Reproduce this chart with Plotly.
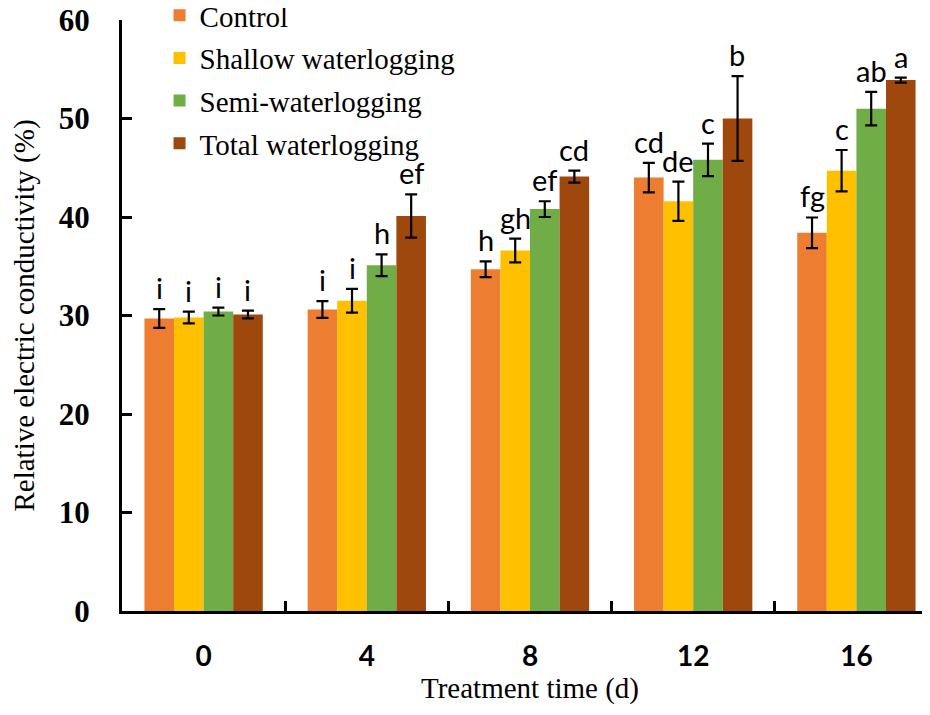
import plotly.graph_objects as go

days = ["0", "4", "8", "12", "16"]
series_names = ["Control", "Shallow waterlogging", "Semi-waterlogging", "Total waterlogging"]
colors = ["#ED7D31", "#FFC000", "#70AD47", "#9E480E"]

control = [29.7, 30.6, 34.7, 44.0, 38.4]
shallow = [29.8, 31.5, 36.6, 41.6, 44.7]
semi = [30.4, 35.1, 40.8, 45.8, 51.0]
total = [30.1, 40.1, 44.1, 50.0, 53.9]

control_err = [0.95, 0.85, 0.8, 1.5, 1.55]
shallow_err = [0.6, 1.2, 1.2, 2.0, 2.1]
semi_err = [0.4, 1.1, 0.8, 1.65, 1.7]
total_err = [0.4, 2.2, 0.6, 4.3, 0.25]

control_lbl = ["i", "i", "h", "cd", "fg"]
shallow_lbl = ["i", "i", "gh", "de", "c"]
semi_lbl = ["i", "h", "ef", "c", "ab"]
total_lbl = ["i", "ef", "cd", "b", "a"]

values = [control, shallow, semi, total]
errors = [control_err, shallow_err, semi_err, total_err]
labels = [control_lbl, shallow_lbl, semi_lbl, total_lbl]

fig = go.Figure()
for i, name in enumerate(series_names):
    fig.add_trace(go.Bar(
        x=days, y=values[i], name=name, legendgroup=name,
        marker=dict(color=colors[i], line=dict(width=0)),
        error_y=dict(type="data", array=errors[i], color="black", thickness=2.2, width=6),
    ))

bar_px = 29.5
for i in range(4):
    for j, d in enumerate(days):
        fig.add_annotation(
            x=j, y=values[i][j] + errors[i][j], text=labels[i][j],
            xref="x", yref="y",
            showarrow=False, yanchor="bottom", xanchor="center",
            xshift=(i - 1.5) * bar_px, yshift=2,
            font=dict(family="Lato", size=29, color="black"),
        )

fig.update_layout(
    width=930, height=715,
    margin=dict(l=114, r=0, t=12, b=112, autoexpand=False),
    plot_bgcolor="white", paper_bgcolor="white",
    barmode="group", bargap=0.275, bargroupgap=0,
    showlegend=True,
    legend=dict(
        x=0.046, y=1.051, xanchor="left", yanchor="top", yref="paper",
        font=dict(family="Liberation Serif", size=29, color="black"),
        traceorder="grouped", tracegroupgap=2,
        bgcolor="rgba(0,0,0,0)",
    ),
    xaxis=dict(
        range=[-0.5, 4.5], showline=True, linecolor="black", linewidth=3,
        ticks="inside", tickson="boundaries", ticklen=10, tickwidth=2.5, tickcolor="black",
        tickfont=dict(family="Lato", size=28, color="black", weight="bold"),
        ticklabelstandoff=18,
        title=dict(text="Treatment time (d)", font=dict(family="Liberation Serif", size=29, color="black"), standoff=8),
        showgrid=False, automargin=False,
    ),
    yaxis=dict(
        range=[0, 60], dtick=10, showline=True, linecolor="black", linewidth=3,
        ticks="inside", ticklen=10, tickwidth=2.5, tickcolor="black",
        tickfont=dict(family="Liberation Serif", size=31, color="black", weight="bold"),
        ticklabelstandoff=23, ticklabeloverflow="allow",
        title=dict(text="Relative electric conductivity (%)", font=dict(family="Liberation Serif", size=29, color="black"), standoff=17),
        showgrid=False, zeroline=False, automargin=False,
    ),
)

fig.write_html("out.html")
